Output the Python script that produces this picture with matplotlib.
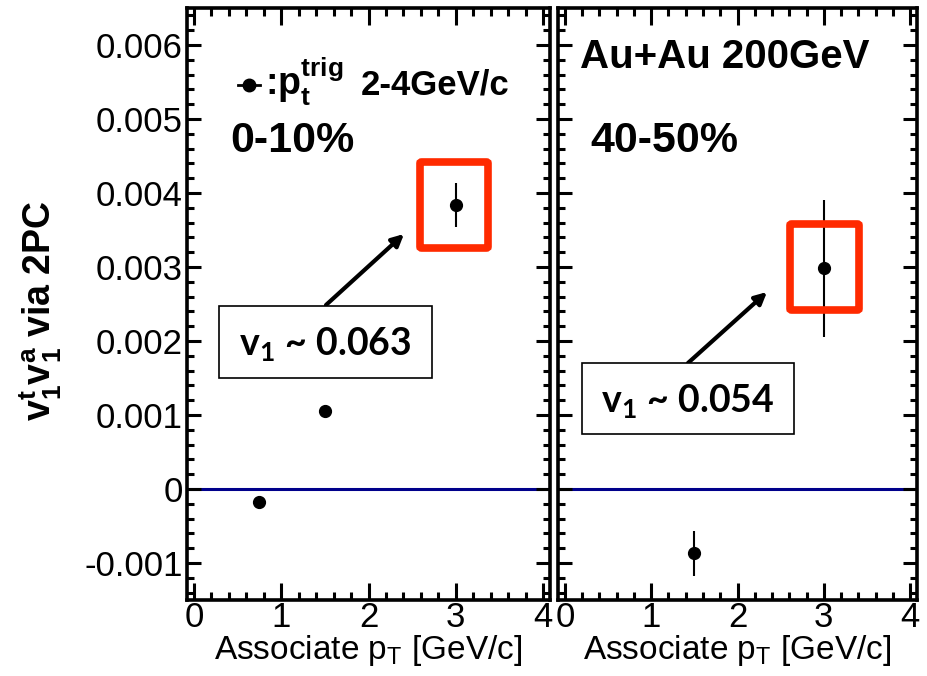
import numpy as np
import matplotlib
matplotlib.use("Agg")
import matplotlib.pyplot as plt
from matplotlib.patches import FancyBboxPatch, Rectangle
from matplotlib.ticker import MultipleLocator

plt.rcParams['font.family'] = ['Liberation Sans', 'DejaVu Sans']
plt.rcParams['mathtext.fontset'] = 'custom'
plt.rcParams['mathtext.rm'] = 'Liberation Sans'
plt.rcParams['mathtext.it'] = 'Liberation Sans:italic'
plt.rcParams['mathtext.bf'] = 'Liberation Sans:bold'

# v1t*v1a from two-particle correlations, trigger pT 2-4 GeV/c
pt_central = [0.75, 1.5, 3.0]
v11_central = [-0.00018, 0.00105, 0.00384]
err_central = [0.00005, 0.00005, 0.00030]

pt_mid = [1.5, 3.0]
v11_mid = [-0.00087, 0.00298]
err_mid = [0.00030, 0.00092]

centralities = ['0-10%', '40-50%']
v1_labels = ['0.063', '0.054']

fig = plt.figure(figsize=(9.27, 6.76), dpi=100)
ax1 = fig.add_axes([187/927, 1-600/676, 363/927, 592/676])
ax2 = fig.add_axes([558/927, 1-600/676, 359/927, 592/676])

for ax, x, y, e in [(ax1, pt_central, v11_central, err_central),
                    (ax2, pt_mid, v11_mid, err_mid)]:
    ax.axhline(0, color='#00008b', lw=2.2, zorder=1)
    ax.errorbar(x, y, yerr=e, fmt='o', color='black', ms=8.5,
                elinewidth=1.5, capsize=0, zorder=3)
    ax.set_xlim(-0.08, 4.08)
    ax.set_ylim(-0.0015, 0.0065)
    ax.xaxis.set_major_locator(MultipleLocator(1))
    ax.xaxis.set_minor_locator(MultipleLocator(0.2))
    ax.yaxis.set_major_locator(MultipleLocator(0.001))
    ax.yaxis.set_minor_locator(MultipleLocator(0.0002))
    ax.tick_params(axis='both', which='both', direction='in',
                   top=True, right=True, width=2.2)
    ax.tick_params(axis='x', which='major', length=12, pad=1)
    ax.tick_params(axis='x', which='minor', length=6)
    ax.tick_params(axis='y', which='major', length=10, pad=3)
    ax.tick_params(axis='y', which='minor', length=5)
    for sp in ax.spines.values():
        sp.set_linewidth(2.6)
    ax.set_xticks([0, 1, 2, 3, 4])
    ax.set_xticklabels(['0', '1', '2', '3', '4'], fontsize=25)
    ax.set_xlabel(r'Associate p$_\mathregular{T}$ [GeV/c]',
                  fontsize=24, labelpad=-1)

ax1.set_yticks(np.arange(-0.001, 0.0061, 0.001))
ax1.set_yticklabels(['-0.001', '0', '0.001', '0.002', '0.003',
                     '0.004', '0.005', '0.006'], fontsize=25)
ax2.set_yticklabels([])

fig.text(0.043, 0.54, r'$\mathbf{v_1^t v_1^a}$ via 2PC', rotation=90,
         fontsize=27, fontweight='bold', ha='center', va='center')

# legend entry for the trigger selection
ax1.plot([0.14, 0.20], [0.87, 0.87], color='black', lw=2,
         transform=ax1.transAxes)
ax1.plot([0.17], [0.87], 'o', color='black', ms=9, transform=ax1.transAxes)
ax1.text(0.215, 0.875, r':p$_\mathregular{t}^\mathregular{trig}$',
         transform=ax1.transAxes, fontsize=27, fontweight='bold',
         ha='left', va='center')
ax1.text(0.48, 0.87, '2-4GeV/c', transform=ax1.transAxes, fontsize=25,
         fontweight='bold', ha='left', va='center')

ax2.text(0.06, 0.918, 'Au+Au 200GeV', transform=ax2.transAxes, fontsize=29,
         fontweight='bold', ha='left', va='center')

ax1.text(0.12, 0.775, centralities[0], transform=ax1.transAxes, fontsize=31,
         fontweight='bold', ha='left', va='center')
ax2.text(0.09, 0.775, centralities[1], transform=ax2.transAxes, fontsize=31,
         fontweight='bold', ha='left', va='center')

# highlight boxes, arrows and v1 call-outs
boxes = [
    (ax1, (417, 159, 491, 251), (219, 306, 432, 378), (326, 305), (404, 234)),
    (ax2, (787, 221, 862, 313), (582, 363, 794, 434), (688, 363), (767, 292)),
]
for (ax, red, txt, tail, head), lab in zip(boxes, v1_labels):
    def fx(px):
        return px / 927
    def fy(py):
        return 1 - py / 676
    x0, y0, x1, y1 = red
    rb = FancyBboxPatch((fx(x0 + 3), fy(y1 - 3)), fx(x1 - x0 - 6), (y1 - y0 - 6) / 676,
                        boxstyle='round,pad=0,rounding_size=0.002',
                        transform=fig.transFigure, fill=False,
                        edgecolor='#ff2a00', lw=5.5, zorder=5)
    fig.add_artist(rb)
    x0, y0, x1, y1 = txt
    tb = Rectangle((fx(x0), fy(y1)), fx(x1 - x0), (y1 - y0) / 676,
                   transform=fig.transFigure, fill=True, facecolor='white',
                   edgecolor='black', lw=1.2, zorder=5)
    fig.add_artist(tb)
    fig.text(fx((x0 + x1) / 2), fy((y0 + y1) / 2 + 3),
             r'v$_\mathregular{1}$ ~ ' + lab, family=['Lato', 'DejaVu Sans'],
             fontsize=27, fontweight='bold', ha='center', va='center', zorder=6)
    ax.annotate('', xy=(fx(head[0]), fy(head[1])), xytext=(fx(tail[0]), fy(tail[1])),
                xycoords='figure fraction', textcoords='figure fraction',
                arrowprops=dict(arrowstyle='-|>,head_length=0.7,head_width=0.35',
                                color='black', lw=3, shrinkA=0, shrinkB=0),
                zorder=6, annotation_clip=False)

fig.savefig('out.png', dpi=100)
